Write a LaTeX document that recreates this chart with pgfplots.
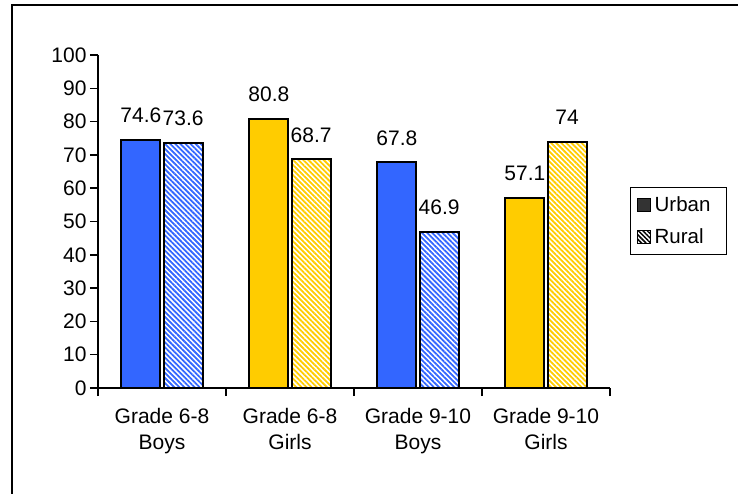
\documentclass[border=0pt]{standalone}
\usepackage{pgfplots}
\pgfplotsset{compat=1.18}
\usepackage{fontspec}
\setmainfont{Liberation Sans}
\usetikzlibrary{patterns.meta}
\definecolor{ublue}{RGB}{51,102,255}
\definecolor{uyellow}{RGB}{255,204,0}
\definecolor{legdark}{RGB}{51,51,51}
\pgfplotsset{
  hatch/.style={pattern={Lines[angle=-45,distance=3.6pt,line width=1.8pt]}, pattern color=#1},
  barlabel/.style={nodes near coords, every node near coord/.append style={
      font=\fontsize{21}{24}\selectfont, anchor=south, inner sep=0pt, yshift=16pt, text=black}},
}
\begin{document}
\begin{tikzpicture}[x=1pt,y=1pt]
\useasboundingbox (0,0) rectangle (738,493);
\draw[line width=2pt] (12,-5) -- (12,488) -- (745,488);
\begin{axis}[
  at={(98pt,105pt)}, anchor=south west,
  scale only axis, width=512pt, height=333pt,
  ybar, bar width=0.305,
  xmin=-0.5, xmax=3.5, ymin=0, ymax=100,
  axis x line*=bottom, axis y line*=left,
  axis line style={line width=2pt, -},
  tick align=outside,
  major tick length=8pt, minor tick length=8pt,
  every tick/.style={black, line width=1.5pt},
  xtick={0,1,2,3},
  xticklabels={{Grade 6-8\\Boys},{Grade 6-8\\Girls},{Grade 9-10\\Boys},{Grade 9-10\\Girls}},
  minor xtick={-0.5,0.5,1.5,2.5,3.5},
  major x tick style={draw=none},
  ytick={0,10,...,100},
  /pgf/number format/assume math mode=true,
  tick label style={font=\fontsize{21}{26}\selectfont},
  x tick label style={align=center, yshift=-9pt},
  legend style={at={(1.039,0.6036)}, anchor=north west, draw=black, line width=1.2pt,
    font=\fontsize{20.5}{22}\selectfont, row sep=12pt, inner xsep=6pt, inner ysep=7pt},
  legend cell align=left,
]
\addlegendimage{legend image code/.code={\draw[fill=legdark, draw=black, line width=1pt] (0pt,-6.5pt) rectangle (13pt,6.5pt); \path (15pt,0pt);}}
\addlegendentry{Urban\rule{8pt}{0pt}}
\addlegendimage{legend image code/.code={\draw[pattern={Lines[angle=-45,distance=3.2pt,line width=1.5pt]}, pattern color=black, draw=black, line width=1pt] (0pt,-6.5pt) rectangle (13pt,6.5pt); \path (15pt,0pt);}}
\addlegendentry{Rural\rule{8pt}{0pt}}
% Urban, blue
\addplot[forget plot, bar shift=-0.165, fill=ublue, draw=black, line width=2pt, barlabel]
  coordinates {(0,74.6) (2,67.8)};
% Urban, yellow
\addplot[forget plot, bar shift=-0.165, fill=uyellow, draw=black, line width=2pt, barlabel]
  coordinates {(1,80.8) (3,57.1)};
% Rural, blue
\addplot[forget plot, bar shift=0.165, hatch=ublue, draw=black, line width=2pt, barlabel]
  coordinates {(0,73.6) (2,46.9)};
% Rural, yellow
\addplot[forget plot, bar shift=0.165, hatch=uyellow, draw=black, line width=2pt, barlabel]
  coordinates {(1,68.7) (3,74)};
\end{axis}
\end{tikzpicture}
\end{document}
